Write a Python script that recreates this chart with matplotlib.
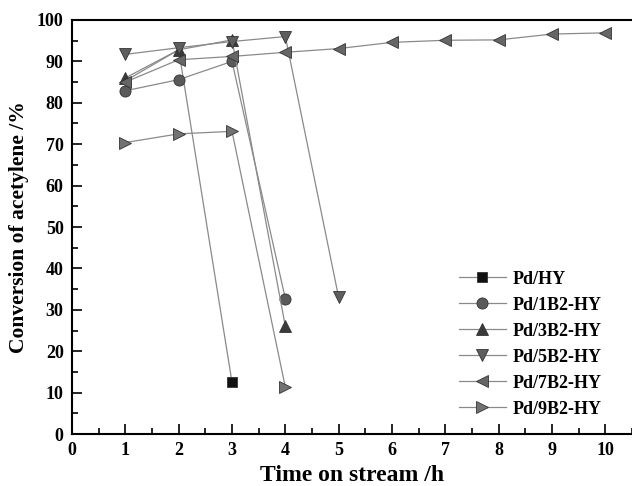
import matplotlib
matplotlib.use("Agg")
import matplotlib.pyplot as plt
from matplotlib.ticker import MultipleLocator

plt.rcParams["font.family"] = ["Liberation Serif", "DejaVu Serif"]
plt.rcParams["font.weight"] = "bold"

# data
t_hy = [1, 2, 3]
conv_hy = [85.3, 92.8, 12.5]
t_1b2 = [1, 2, 3, 4]
conv_1b2 = [82.9, 85.6, 90.0, 32.7]
t_3b2 = [1, 2, 3, 4]
conv_3b2 = [86.0, 92.8, 95.2, 26.0]
t_5b2 = [1, 2, 3, 4, 5]
conv_5b2 = [91.7, 93.3, 94.8, 96.0, 33.0]
t_7b2 = [1, 2, 3, 4, 5, 6, 7, 8, 9, 10]
conv_7b2 = [85.0, 90.4, 91.2, 92.2, 93.1, 94.6, 95.1, 95.2, 96.6, 96.9]
t_9b2 = [1, 2, 3, 4]
conv_9b2 = [70.4, 72.5, 73.1, 11.3]

series = [
    ("Pd/HY", t_hy, conv_hy, "s", "#111111"),
    ("Pd/1B2-HY", t_1b2, conv_1b2, "o", "#5a5a5a"),
    ("Pd/3B2-HY", t_3b2, conv_3b2, "^", "#3a3a3a"),
    ("Pd/5B2-HY", t_5b2, conv_5b2, "v", "#5e5e5e"),
    ("Pd/7B2-HY", t_7b2, conv_7b2, "<", "#666666"),
    ("Pd/9B2-HY", t_9b2, conv_9b2, ">", "#727272"),
]

fig = plt.figure(figsize=(6.32, 4.86), dpi=100)
ax = fig.add_axes([72 / 632, 1 - 434 / 486, 560 / 632, 414 / 486])

for name, t, c, m, col in series:
    ms = 7 if m == "s" else 8
    # Pd/HY squares at 1 h and 2 h sit hidden under the other markers
    ax.plot(t, c, color="#8a8a8a", lw=0.9, marker=m, markersize=ms,
            markerfacecolor=col, markeredgecolor="#333333",
            markeredgewidth=0.6, label=name,
            markevery=[len(t) - 1] if m == "s" else None)

ax.set_xlim(0, 10.5)
ax.set_ylim(0, 100)
ax.xaxis.set_major_locator(MultipleLocator(1))
ax.xaxis.set_minor_locator(MultipleLocator(0.5))
ax.yaxis.set_major_locator(MultipleLocator(10))
ax.yaxis.set_minor_locator(MultipleLocator(5))
ax.tick_params(which="both", direction="in", top=False, right=False,
               labelsize=13, width=1.2)
ax.tick_params(which="major", length=7, pad=6)
ax.tick_params(which="minor", length=4)
for s in ax.spines.values():
    s.set_linewidth(1.5)
ax.spines["right"].set_visible(False)
for lab in ax.get_xticklabels() + ax.get_yticklabels():
    lab.set_fontweight("bold")

ax.set_xlabel("Time on stream /h", fontsize=17, fontweight="bold", labelpad=4)
ax.set_ylabel("Conversion of acetylene /%", fontsize=15.5, fontweight="bold", labelpad=6)

leg = ax.legend(loc="lower right", bbox_to_anchor=(0.975, 0.0), frameon=False,
                prop={"size": 13, "weight": "bold"}, handlelength=2.6,
                labelspacing=0.5, handletextpad=0.4)

fig.savefig("out.png", dpi=100)
